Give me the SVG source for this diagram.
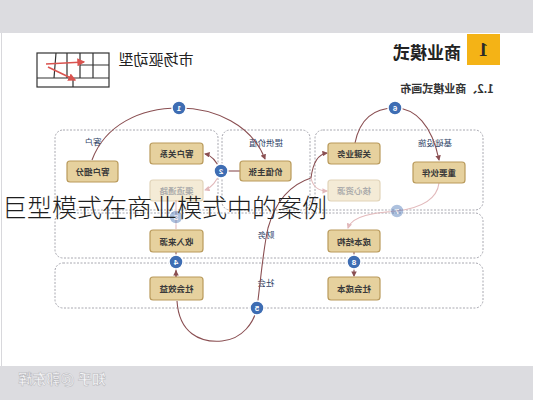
<svg xmlns="http://www.w3.org/2000/svg" width="533" height="400" viewBox="0 0 533 400">
<defs>
<marker id="ah" viewBox="0 0 6 6" refX="5" refY="3" markerWidth="5" markerHeight="5" orient="auto"><path d="M0,0 L6,3 L0,6 z" fill="#8a4f52"/></marker>
<marker id="ahf" viewBox="0 0 6 6" refX="5" refY="3" markerWidth="5" markerHeight="5" orient="auto"><path d="M0,0 L6,3 L0,6 z" fill="#e2b9bb"/></marker>
<marker id="ahr" viewBox="0 0 6 6" refX="5" refY="3" markerWidth="5" markerHeight="5" orient="auto"><path d="M0,0 L6,3 L0,6 z" fill="#d9534f"/></marker>
</defs>
<style>
.band{fill:#dcdce0}
.sec{fill:none;stroke:#a8a8b0;stroke-width:1;stroke-dasharray:2 1.5}
.node rect{fill:#e6d19e;stroke:#b99a5b;stroke-width:1.2}
.node text{font-family:"Noto Sans CJK SC",sans-serif;font-size:8.5px;fill:#3a3a3a;text-anchor:middle;font-weight:bold}
.faded{opacity:.42}
.con{fill:none;stroke:#8a4f52;stroke-width:1.1}
.conf{fill:none;stroke:#e2b9bb;stroke-width:1.1}
.num circle{fill:#3e6db3;stroke:#fff;stroke-width:1.5}
.num text{fill:#fff;font-size:8px;font-weight:bold;text-anchor:middle;font-family:"Liberation Sans",sans-serif}
.lbl{font-family:"Noto Sans CJK SC",sans-serif;font-size:8.5px;fill:#2e3f66;text-anchor:middle}
.cjk{font-family:"Noto Sans CJK SC",sans-serif}
</style>

<rect x="0" y="0" width="533" height="400" fill="#ffffff"/>
<rect class="band" x="0" y="0" width="533" height="33"/>
<rect class="band" x="0" y="366" width="533" height="34"/>
<line x1="1.5" y1="33" x2="1.5" y2="366" stroke="#d8d8dc" stroke-width="1"/>

<g id="header">
  <rect x="467" y="34" width="33" height="31" fill="#f4b316"/>
  <text transform="translate(483.5,56) scale(-1,1)" text-anchor="middle" font-family="Liberation Serif,serif" font-size="19" font-weight="bold" fill="#2a2a2a">1</text>
  <text class="cjk" transform="translate(427,59) scale(-1,1)" text-anchor="middle" font-size="17" font-weight="bold" fill="#222">商业模式</text>
  <text class="cjk" transform="translate(447,93) scale(-1,1)" text-anchor="middle" font-size="11" font-weight="bold" fill="#333">1.2、商业模式画布</text>
</g>

<g id="market-icon" fill="none" stroke="#333" stroke-width="1.2">
  <rect x="37" y="53" width="72" height="34"/>
  <path d="M56,53 L54,78 M67,53 L67,78 M80,53 L80,78 M93,53 L93,78 M37,78 L109,78 M73,78 L73,87 M80,65 L109,65"/>
  <path d="M46,64 L84,62" stroke="#d9534f" stroke-width="1.6" marker-end="url(#ahr)"/>
  <path d="M48,67 L75,80" stroke="#d9534f" stroke-width="1.6" marker-end="url(#ahr)"/>
</g>
<text class="cjk" transform="translate(156,65) scale(-1,1)" text-anchor="middle" font-size="15" fill="#222">市场驱动型</text>

<g id="sections">
  <rect class="sec" x="55" y="130" width="163" height="80" rx="8"/>
  <rect class="sec" x="222" y="130" width="88" height="80" rx="8"/>
  <rect class="sec" x="315" y="130" width="168" height="80" rx="8"/>
  <rect class="sec" x="55" y="213" width="428" height="45" rx="8"/>
  <rect class="sec" x="55" y="263" width="428" height="45" rx="8"/>
  <text class="lbl" transform="translate(93,145) scale(-1,1)">客户</text>
  <text class="lbl" transform="translate(266,146) scale(-1,1)">提供价值</text>
  <text class="lbl" transform="translate(435,146) scale(-1,1)">基础设施</text>
  <text class="lbl" transform="translate(266,238) scale(-1,1)" fill="#444">财务</text>
  <text class="lbl" transform="translate(266,286) scale(-1,1)" fill="#444">社会</text>
</g>

<g id="connectors">
  <path class="con" d="M92,160 C105,125 140,108 179,108 C215,108 252,125 265,159" marker-end="url(#ah)"/>
  <path class="con" d="M221,171 C216,160 211,155 205,154" marker-end="url(#ah)"/>
  <path class="conf" d="M221,171 C216,183 211,188 205,190" marker-end="url(#ahf)"/>
  <path class="con" d="M226,171 L240,171"/>
  <path class="con" d="M177,301 C179,333 200,343 222,341 C243,339 254,322 257,308 C261,278 263,250 268,228 C276,200 292,184 311,178"/>
  <path class="con" d="M311,178 C313,162 319,154 327,153" marker-end="url(#ah)"/>
  <path class="conf" d="M311,178 C313,187 319,191 327,191" marker-end="url(#ahf)"/>
  <path class="con" d="M355,143 C360,118 375,108 395,108 C415,108 432,125 439,160" marker-end="url(#ah)"/>
  <path class="conf" d="M439,183 C437,200 420,208 397,211 C375,213 352,215 348,228" marker-end="url(#ahf)"/>
  <path class="conf" d="M176,200 L176,229"/>
  <path class="con" d="M176,252 L176,277"/>
  <path class="con" d="M176,277 L176,271" marker-end="url(#ah)"/>
  <path class="con" d="M354,252 L354,276" marker-end="url(#ah)"/>
</g>

<g id="n-khxf" class="node"><rect x="67" y="161" width="51" height="21" rx="3"/><text transform="translate(92.5,175) scale(-1,1)">客户细分</text></g>
<g id="n-khgx" class="node"><rect x="150" y="143" width="53" height="21" rx="3"/><text transform="translate(176.5,157) scale(-1,1)">客户关系</text></g>
<g id="n-qdtl" class="node faded"><rect x="150" y="180" width="53" height="21" rx="3"/><text transform="translate(176.5,194) scale(-1,1)">渠道通路</text></g>
<g id="n-jzzz" class="node"><rect x="240" y="161" width="51" height="20" rx="3"/><text transform="translate(265.5,174.5) scale(-1,1)">价值主张</text></g>
<g id="n-gjyw" class="node"><rect x="328" y="143" width="52" height="21" rx="3"/><text transform="translate(354,157) scale(-1,1)">关键业务</text></g>
<g id="n-hxzy" class="node faded"><rect x="328" y="180" width="52" height="21" rx="3"/><text transform="translate(354,194) scale(-1,1)">核心资源</text></g>
<g id="n-zyhb" class="node"><rect x="413" y="162" width="52" height="21" rx="3"/><text transform="translate(439,176) scale(-1,1)">重要伙伴</text></g>
<g id="n-srly" class="node"><rect x="150" y="230" width="53" height="22" rx="3"/><text transform="translate(176.5,244.5) scale(-1,1)">收入来源</text></g>
<g id="n-cbjg" class="node"><rect x="328" y="230" width="52" height="22" rx="3"/><text transform="translate(354,244.5) scale(-1,1)">成本结构</text></g>
<g id="n-shxy" class="node"><rect x="150" y="277" width="53" height="23" rx="3"/><text transform="translate(176.5,292) scale(-1,1)">社会效益</text></g>
<g id="n-shcb" class="node"><rect x="328" y="277" width="52" height="23" rx="3"/><text transform="translate(354,292) scale(-1,1)">社会成本</text></g>

<g id="badges">
  <g class="num"><circle cx="179" cy="108" r="7"/><text transform="translate(179,111) scale(-1,1)">1</text></g>
  <g class="num"><circle cx="221" cy="171" r="7"/><text transform="translate(221,174) scale(-1,1)">2</text></g>
  <g class="num faded"><circle cx="176" cy="217" r="7"/><text transform="translate(176,220) scale(-1,1)">3</text></g>
  <g class="num"><circle cx="176" cy="262" r="7"/><text transform="translate(176,265) scale(-1,1)">4</text></g>
  <g class="num"><circle cx="257" cy="308" r="7"/><text transform="translate(257,311) scale(-1,1)">5</text></g>
  <g class="num"><circle cx="395" cy="108" r="7"/><text transform="translate(395,111) scale(-1,1)">6</text></g>
  <g class="num faded"><circle cx="397" cy="211" r="7"/><text transform="translate(397,214) scale(-1,1)">7</text></g>
  <g class="num"><circle cx="354" cy="262" r="7"/><text transform="translate(354,265) scale(-1,1)">8</text></g>
</g>

<text class="cjk" x="2" y="217" font-size="25" font-weight="300" fill="#1e1e1e">巨型模式在商业模式中的案例</text>
<text class="cjk" transform="translate(62,384) scale(-1,1)" text-anchor="middle" font-size="14" font-weight="bold" fill="#f6f6f8" stroke="#b8b8bc" stroke-width="0.5">知乎 @郭东辉</text>
</svg>
